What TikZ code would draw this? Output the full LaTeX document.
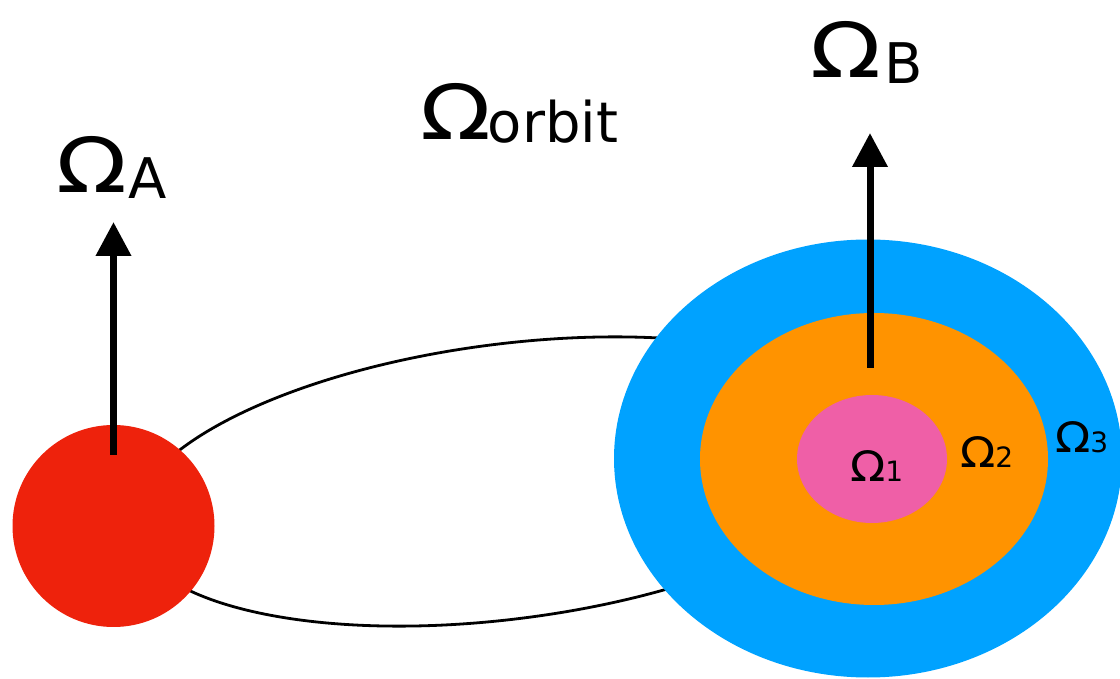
\documentclass[tikz,border=0pt]{standalone}
\usepackage{fontspec}
\setmainfont{DejaVu Sans}
\usetikzlibrary{arrows.meta}
\definecolor{bodyred}{HTML}{EE220C}
\definecolor{layerblue}{HTML}{00A2FF}
\definecolor{layerorange}{HTML}{FF9300}
\definecolor{layerpink}{HTML}{EF5FA7}
\newcommand{\BigOm}{{\fontsize{76}{80}\selectfont\scalebox{1.22}[1]{Ω}}}
\newcommand{\BigSub}[1]{\raisebox{-6pt}{\fontsize{56}{60}\selectfont #1}}
\newcommand{\SmallOm}{{\fontsize{42}{46}\selectfont\scalebox{1.1}[1]{Ω}}}
\newcommand{\SmallSub}[1]{{\fontsize{28}{32}\selectfont #1}}
\begin{document}
\begin{tikzpicture}[x=1pt,y=1pt,
  lbl/.style={inner sep=0pt, outer sep=0pt, anchor=base west},
  spin/.style={line width=7pt, -{Triangle[width=34pt,length=34pt]}},
  orbitline/.style={line width=2.8pt, black}]
\useasboundingbox (0,0) rectangle (1120,678);
\clip (0,0) rectangle (1120,678);
% orbit
\draw[orbitline] (507,196.5) ellipse [x radius=378, y radius=137.5, rotate=7.3];
% body A
\fill[bodyred] (113.5,152) circle [radius=101];
\node[circle, minimum size=202pt, inner sep=0pt] (A) at (113.5,152) {};
% body B layers
\fill[layerblue] (868,219.5) ellipse [x radius=254, y radius=219];
\fill[layerorange] (874,219) ellipse [x radius=174, y radius=146];
\fill[layerpink] (872,219) ellipse [x radius=75, y radius=64];
\node[inner sep=0pt] (B) at (870,219) {};
% spin arrows
\coordinate (Astart) at (113.5,223);
\coordinate (Atip) at (113.5,456);
\coordinate (Bstart) at (870,310);
\coordinate (Btip) at (870,545);
\draw[spin] (Astart) -- (Atip);
\draw[spin] (Bstart) -- (Btip);
% labels
\node[lbl] (LA) at (56,485) {\BigOm\kern2pt\BigSub{A}};
\node[lbl] (LB) at (810,600) {\BigOm\kern4pt\BigSub{B}};
\node[lbl] (LO) at (420,538) {\BigOm\kern-3pt\raisebox{3pt}{\BigSub{orbit}}};
\node[lbl] (L1) at (850,196) {\SmallOm\SmallSub{1}};
\node[lbl] (L2) at (960,210) {\SmallOm\SmallSub{2}};
\node[lbl] (L3) at (1055,225) {\SmallOm\SmallSub{3}};
\end{tikzpicture}
\end{document}
